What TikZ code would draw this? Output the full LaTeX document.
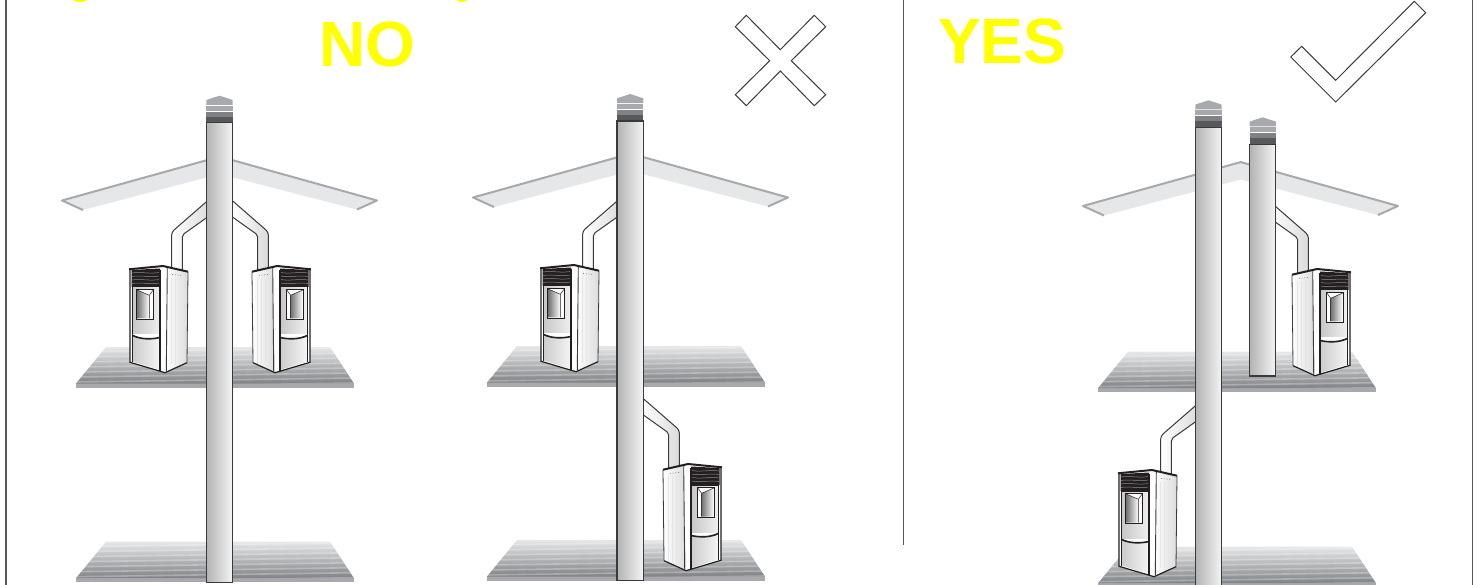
\documentclass[tikz,border=0pt]{standalone}
\usepackage{fontspec}
\setmainfont{Liberation Sans}
\usepackage{xcolor}
\usetikzlibrary{positioning}
\definecolor{roofedge}{HTML}{A7A9AC}
\definecolor{rooffill}{HTML}{E6E7E8}
\definecolor{capmid}{HTML}{808285}
\definecolor{capdark}{HTML}{58595B}
\definecolor{inkline}{HTML}{3A3A3C}
\definecolor{stoveblack}{HTML}{231F20}
\definecolor{signyellow}{RGB}{255,255,0}

\begin{document}
\begin{tikzpicture}[
  x=1pt, y=-1pt,
  verdict/.style={text=signyellow, inner sep=0pt, anchor=base west,
    font=\bfseries\fontsize{64}{64}\selectfont},
  frameline/.style={draw=capdark, line width=1.2pt},
  signmark/.style={draw=inkline, line width=1pt, fill=white, line join=miter},
  pics/roof/.style={code={
    \fill[rooffill] (0,0) -- (158.7,-44.2) -- (317,0) -- (296,9.5)
      -- (158.7,-26) -- (22,10) -- cycle;
    \draw[roofedge, line width=2pt, line join=round]
      (22,10) -- (1,0.5) -- (158.7,-43.4) -- (316,0.5) -- (296,9.5);
  }},
  pics/floor/.style={code={
    \fill[roofedge] (0,36) rectangle (278,40.5);
    \begin{scope}
      \clip (30,0) -- (254,0) -- (278,36.5) -- (0,36.5) -- cycle;
      \shade[top color=rooffill, bottom color=capmid] (0,0) rectangle (278,36.5);
      % Sheen bands on the boards
      \foreach \by in {3,8,...,38}
        \draw[white, opacity=0.28, line width=1.6pt] (0,\by+2) -- (278,\by-2);
    \end{scope}
  }},
  pics/stove/.style={code={
    % Flue up to the chimney
    \shade[left color=white, right color=black!14] (42.7,5) -- (42.7,-34)
      -- (80,-66.5) -- (80,-50) -- (53.3,-31) -- (53.3,5) -- cycle;
    \draw[inkline, line width=1pt, rounded corners=3pt]
      (42.7,4) -- (42.7,-34) -- (80,-66.5);
    \draw[inkline, line width=1pt, rounded corners=2pt]
      (53.3,4) -- (53.3,-31) -- (80,-50);
    % Side panel
    \shade[left color=white, right color=black!14]
      (38.3,2) -- (59,5.7) -- (58,96.7) -- (36,106.7) -- cycle;
    \foreach \sx in {42,46,50,54}
      \draw[black!10, line width=0.5pt] (\sx,12) -- (\sx,98);
    \draw[capmid, line width=0.8pt, dotted] (43,8.5) -- (53,9.5);
    % Front
    \fill[white] (0.5,3.5) -- (34,0) -- (38.3,2) -- (36,106.7) -- (1,96.3) -- cycle;
    \shade[left color=black!22, right color=black!6]
      (3.7,21) rectangle (31,68);
    \shade[left color=black!20, right color=black!4]
      (3.7,70) .. controls (12,73.5) and (22,73.5) .. (31,71.5)
      -- (31,104) -- (3.7,95.5) -- cycle;
    % Grille
    \fill[stoveblack] (2.5,4) -- (31,2.5) -- (31,21) -- (2.5,21) -- cycle;
    \foreach \gy in {7,10.5,...,19}
      \draw[black!45, line width=0.5pt] (3,\gy) .. controls (12,\gy-1.5) and (21,\gy+1.2) .. (30.5,\gy-0.5);
    % Door window
    \fill[white] (7.7,23.3) rectangle (24.7,53);
    \shade[left color=black!55, right color=white]
      (8.2,24) -- (20.3,29.3) -- (20.3,52.5) -- (8.2,52.5) -- cycle;
    \draw[stoveblack, line width=0.8pt] (7.7,23.3) rectangle (24.7,53);
    \draw[stoveblack, line width=0.5pt] (8.2,24) -- (20.3,29.3) -- (24.7,23.3)
      (20.3,29.3) -- (20.3,52.5);
    % Outlines
    \draw[stoveblack, line width=1pt] (3.7,21) -- (3.7,96)
      (3.7,21) -- (31,21);
    \draw[stoveblack, line width=1.6pt] (3.7,69.5) .. controls (12,73.5) and (22,73.5) .. (31,71.5);
    \draw[stoveblack, line width=1.3pt] (31,4) -- (31,105);
    \draw[inkline, line width=0.9pt] (38.3,2) -- (37.3,105);
    \draw[inkline, line width=0.8pt] (59,5.7) -- (58,96.7);
    \draw[stoveblack, line width=1.2pt] (1,4) -- (1,96.3) -- (36,106.7) -- (58,96.7);
    \draw[stoveblack, line width=2pt, rounded corners=1pt]
      (0,3.3) -- (34,0) -- (59,5.7);
  }},
  pics/chimney/.style={code={
    % Cap bands, top down
    \fill[roofedge] (13.2,-27) -- (26.4,-22.7) -- (26.4,-17.8) -- (0,-17.8)
      -- (0,-22.7) -- cycle;
    \fill[roofedge] (0,-16.8) rectangle (26.4,-12);
    \fill[capmid] (0,-11) rectangle (26.4,-6);
    \fill[capdark] (0,-6) rectangle (26.4,0);
    % Pipe
    \shade[left color=black!30, middle color=black!14, right color=black!4]
      (0,0) rectangle (26.4,#1);
    \draw[inkline, line width=1.1pt] (0,0) rectangle (26.4,#1);
  }}
]
\useasboundingbox (0,0) rectangle (1478,585);
\clip (0,0) rectangle (1478,585);

% Frame lines
\draw[frameline] (6,0) -- (6,585);
\draw[frameline] (903.5,0) -- (903.5,545);
\draw[frameline] (1472.7,0) -- (1472.7,585);

% Heading remains at the top edge
\fill[signyellow] (73,0) .. controls (76,3) and (84,3) .. (87,0) -- cycle;
\fill[signyellow] (456.5,0) .. controls (459,3) and (464,3) .. (467,0) -- cycle;

% Labels
\node[verdict] (no) at (319,66.5) {NO};
\node[verdict] (yes) at (938,63.3) {YES};

% Signs
\draw[signmark] (746.3,15.3) -- (780.3,49.7) -- (814.3,15.3) -- (825.7,26.7)
  -- (791.3,60.7) -- (825.7,94.7) -- (814.3,105.7) -- (780.3,71)
  -- (746.3,105.7) -- (735.3,94.7) -- (769.7,60.7) -- (735.3,26.7) -- cycle;
\draw[signmark] (1414.3,1.3) -- (1425.7,12.7) -- (1335.7,102) -- (1290.7,57)
  -- (1301.7,46.3) -- (1335.7,80.3) -- cycle;

% Left house
\pic at (61,200) {roof};
\pic at (76,347) {floor};
\pic at (76,541.7) {floor};
\pic at (129,266) {stove};
\pic[xscale=-1] at (311,266) {stove};
\pic at (206.3,122.7) {chimney={459.6}};

% Middle house
\pic at (472,197) {roof};
\pic at (487,346) {floor};
\pic at (487,540) {floor};
\pic at (540,265) {stove};
\pic[xscale=-1] at (722,464) {stove};
\pic at (617,121) {chimney={459.6}};

% Right house
\pic at (1082,205.5) {roof};
\pic at (1098,351.7) {floor};
\pic at (1098,546.7) {floor};
\pic[xscale=-1] at (1351,269) {stove};
\pic at (1118,470) {stove};
\pic at (1195.3,127.3) {chimney={470}};
\pic at (1249.5,144.3) {chimney={231.7}};

\end{tikzpicture}
\end{document}
